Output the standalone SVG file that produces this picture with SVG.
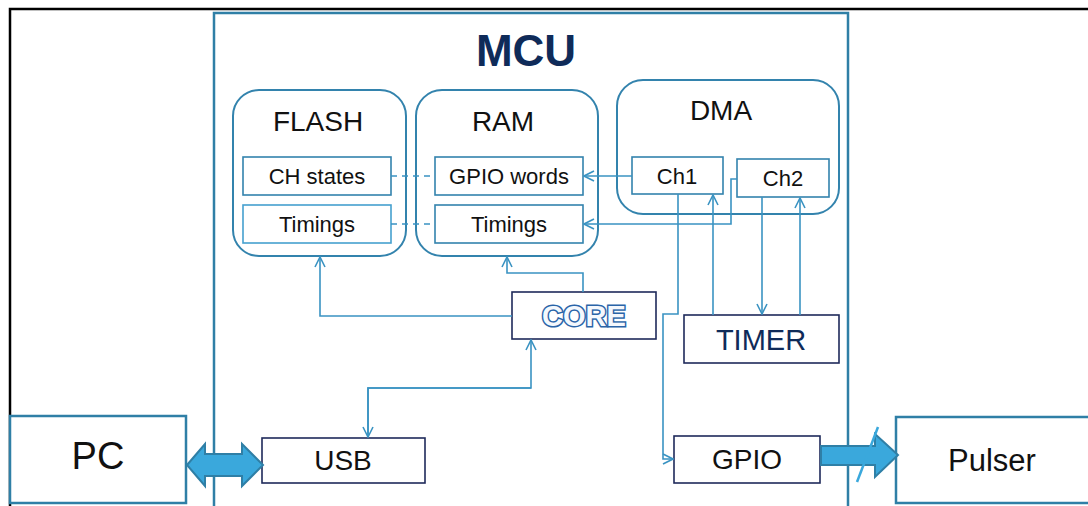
<svg xmlns="http://www.w3.org/2000/svg" width="1088" height="506" viewBox="0 0 1088 506">
<defs>
<style>
text{font-family:"Liberation Sans",Arial,sans-serif;text-anchor:middle}
.frame{fill:none;stroke:#000;stroke-width:2.5}
.mcu{fill:none;stroke:#2f7fa6;stroke-width:2.5}
.mem{fill:#fff;stroke:#3383ad;stroke-width:2}
.sub{fill:#fff;stroke:#3383ad;stroke-width:1.6}
.nav{fill:#fff;stroke:#1f2a5a;stroke-width:1.6}
.ext{fill:#fff;stroke:#2f7fa6;stroke-width:2.5}
.c{fill:none;stroke:#3a93c2;stroke-width:1.6}
.d{fill:none;stroke:#3a93c2;stroke-width:1.6;stroke-dasharray:6 5}
.t{fill:#111;font-size:22px}
.big{fill:#111;font-size:28px}
.fat{fill:#3aa8dc;stroke:#2f7fa6;stroke-width:2}
</style>
<marker id="ah" viewBox="0 0 12 12" refX="11" refY="6" markerWidth="12" markerHeight="12" markerUnits="userSpaceOnUse" orient="auto">
<path d="M1,1 L11,6 L1,11" fill="none" stroke="#3a93c2" stroke-width="1.6"/>
</marker>
</defs>
<rect width="1088" height="506" fill="#fff"/>
<g id="frame">
<path class="frame" d="M10,506 L10,9 L1088,9"/>
</g>
<g id="mcu">
<path class="mcu" d="M214,506 L214,13 L848,13 L848,506"/>
<text x="526" y="66" style="font-size:44px;font-weight:bold;fill:#0f2b59">MCU</text>
</g>
<g id="flash">
<rect class="mem" x="233" y="90" width="173" height="166" rx="26"/>
<text class="big" x="318" y="131">FLASH</text>
</g>
<g id="ch-states">
<rect class="sub" x="243" y="157" width="148" height="38"/>
<text class="t" x="317" y="184">CH states</text>
</g>
<g id="flash-timings">
<rect class="sub" x="243" y="205" width="148" height="38" style="stroke:#45a0cf"/>
<text class="t" x="317" y="232">Timings</text>
</g>
<g id="ram">
<rect class="mem" x="416" y="90" width="182" height="166" rx="26"/>
<text class="big" x="503" y="131">RAM</text>
</g>
<g id="gpio-words">
<rect class="sub" x="435" y="157" width="148" height="38"/>
<text class="t" x="509" y="184">GPIO words</text>
</g>
<g id="ram-timings">
<rect class="sub" x="435" y="205" width="148" height="38"/>
<text class="t" x="509" y="232">Timings</text>
</g>
<g id="dma">
<rect class="mem" x="617" y="80" width="222" height="134" rx="26"/>
<text class="big" x="721" y="120">DMA</text>
</g>
<g id="ch1">
<rect class="sub" x="632" y="157" width="91" height="37"/>
<text class="t" x="677" y="184">Ch1</text>
</g>
<g id="ch2">
<rect class="sub" x="737" y="159" width="92" height="38"/>
<text class="t" x="783" y="186">Ch2</text>
</g>
<g id="core">
<rect class="nav" x="512" y="292" width="144" height="47"/>
<text x="584" y="326" style="font-size:29px;font-weight:bold;fill:#f4f8fd;stroke:#2a64a8;stroke-width:3;paint-order:stroke">CORE</text>
</g>
<g id="timer">
<rect class="nav" x="684" y="315" width="155" height="48"/>
<text x="761" y="350" style="font-size:29px;fill:#0f2b59">TIMER</text>
</g>
<g id="usb">
<rect class="nav" x="262" y="438" width="163" height="45"/>
<text class="big" x="343" y="470">USB</text>
</g>
<g id="gpio">
<rect class="nav" x="674" y="436" width="146" height="47"/>
<text class="big" x="747" y="469">GPIO</text>
</g>
<g id="pc">
<rect class="ext" x="10" y="416" width="176" height="87"/>
<text x="98" y="469" style="font-size:38px;fill:#111">PC</text>
</g>
<g id="pulser">
<rect class="ext" x="896" y="417" width="200" height="86"/>
<text x="992" y="471" style="font-size:31px;fill:#111">Pulser</text>
</g>
<g id="connectors">
<path class="d" d="M391,176 L435,176"/>
<path class="d" d="M391,224 L435,224"/>
<path class="c" d="M632,176 L584,176" marker-end="url(#ah)"/>
<path class="c" d="M737,179 L731,179 L731,224 L584,224" marker-end="url(#ah)"/>
<path class="c" d="M678,194 L678,314 L663,314 L663,459 L673,459" marker-end="url(#ah)"/>
<path class="c" d="M713,315 L713,195" marker-end="url(#ah)"/>
<path class="c" d="M762,197 L762,314" marker-end="url(#ah)"/>
<path class="c" d="M800,315 L800,198" marker-end="url(#ah)"/>
<path class="c" d="M583,292 L583,273 L507,273 L507,257" marker-end="url(#ah)"/>
<path class="c" d="M512,316 L320,316 L320,257" marker-end="url(#ah)"/>
<path class="c" d="M368,437 L368,388 L531,388 L531,340" marker-end="url(#ah)"/>
<path class="c" d="M531,388 L368,388 L368,437" marker-end="url(#ah)"/>
<path class="fat" d="M187,465 L205,444 L205,454 L242,454 L242,444 L263,465 L242,486 L242,476 L205,476 L205,486 Z"/>
<path class="fat" d="M821,446 L875,446 L875,434 L898,455 L875,477 L875,465 L821,465 Z"/>
<path d="M857,482 L878,427" fill="none" stroke="#3aa8dc" stroke-width="2.5"/>
</g>
</svg>
